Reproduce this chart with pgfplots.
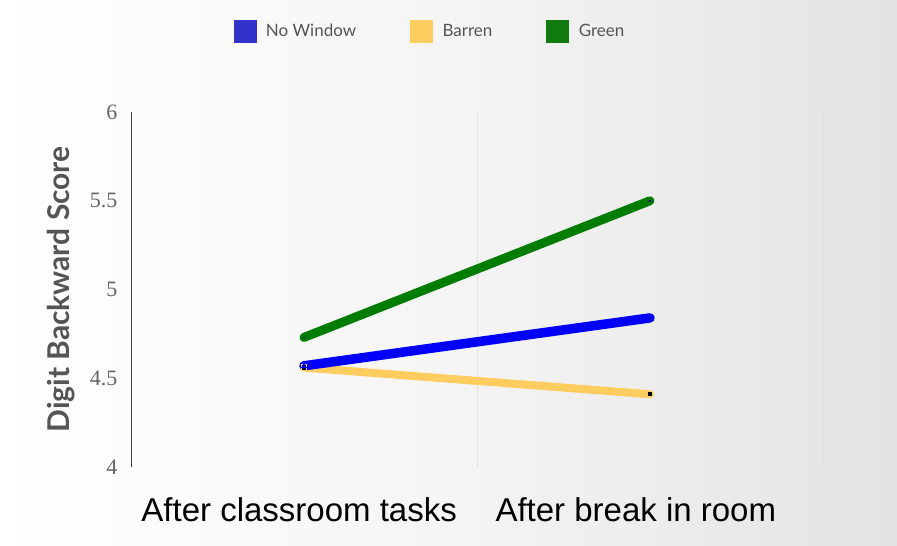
\documentclass[border=0pt]{standalone}
\usepackage{pgfplots}
\pgfplotsset{compat=1.18}
\usepackage{fontspec}
\setmainfont{Liberation Sans}
\newfontfamily\legendfont{Lato}
\newfontfamily\tickfont{Liberation Serif}

\definecolor{nowinline}{RGB}{0,0,250}
\definecolor{nowinkey}{RGB}{51,51,204}
\definecolor{barren}{RGB}{255,204,95}
\definecolor{greenline}{RGB}{0,125,0}
\definecolor{greenkey}{RGB}{16,124,16}
\definecolor{labelgray}{RGB}{85,85,85}
\definecolor{tickgray}{RGB}{100,100,100}
\definecolor{gridgray}{RGB}{225,225,225}

% Digit Backward Score at the two measurement points
\pgfplotstableread{
x   score
0.5 4.57
1.5 4.84
}\nowindow
\pgfplotstableread{
x   score
0.5 4.56
1.5 4.41
}\barrenroom
\pgfplotstableread{
x   score
0.5 4.73
1.5 5.50
}\greenroom

\begin{document}
\begin{tikzpicture}
% page background with a soft left-to-right grey gradient
\shade[left color=white, right color=black!11, middle color=black!4]
  (0pt,0pt) rectangle (897pt,546pt);

\begin{axis}[
  at={(131pt,79pt)}, anchor=south west,
  scale only axis, width=692pt, height=355pt,
  xmin=0, xmax=2, ymin=4, ymax=6,
  axis x line=none,
  axis y line*=left,
  y axis line style={draw=black!75, line width=0.8pt, -},
  ytick={4,4.5,5,5.5,6},
  yticklabels={4,4.5,5,5.5,6},
  major tick length=0pt,
  yticklabel style={font=\tickfont\fontsize{22}{26}\selectfont, text=tickgray, xshift=-10pt},
  ylabel={\legendfont\bfseries Digit Backward Score},
  ylabel style={at={(axis description cs:-0.101,0.5)}, anchor=center, rotate=0,
    font=\fontsize{30}{36}\selectfont, text=labelgray},
  clip=false,
  legend columns=3,
  legend style={at={(axis description cs:0.432,1.228)}, anchor=center,
    draw=none, fill=none, inner sep=0pt,
    font=\legendfont\fontsize{17}{20}\selectfont, text=labelgray,
    /tikz/every odd column/.append style={column sep=8pt},
    /tikz/every even column/.append style={column sep=52pt}},
  legend cell align=left,
]
% vertical separators between the categories
\draw[gridgray, line width=0.8pt] (axis cs:1,4) -- (axis cs:1,6);
\draw[gridgray, line width=0.8pt] (axis cs:2,4) -- (axis cs:2,6);

\addlegendimage{legend image code/.code={\fill[nowinkey] (0pt,-11pt) rectangle (22pt,11pt);}}
\addlegendentry{No Window}
\addlegendimage{legend image code/.code={\fill[barren] (0pt,-11pt) rectangle (22pt,11pt);}}
\addlegendentry{Barren}
\addlegendimage{legend image code/.code={\fill[greenkey] (0pt,-11pt) rectangle (22pt,11pt);}}
\addlegendentry{Green}

\addplot[barren, line width=8pt, line cap=round, forget plot,
  mark=square*, mark size=2.6pt, mark options={fill=black, draw=none, line width=0pt}]
  table[x=x, y=score] {\barrenroom};
\addplot[nowinline, line width=9.5pt, line cap=round, forget plot,
  mark=triangle*, mark size=2.6pt, mark options={fill=blue!60!black, draw=none, line width=0pt}]
  table[x=x, y=score] {\nowindow};
\addplot[greenline, line width=9pt, line cap=round, forget plot,
  mark=triangle*, mark size=2.6pt, mark options={fill=blue!60!black, draw=none, line width=0pt}]
  table[x=x, y=score] {\greenroom};

% category names under the plot
\node[font=\fontsize{33}{38}\selectfont, anchor=base] at (axis cs:0.486,4) [yshift=-55pt] {After classroom tasks};
\node[font=\fontsize{33}{38}\selectfont, anchor=base] at (axis cs:1.459,4) [yshift=-55pt] {After break in room};
\end{axis}
\pgfresetboundingbox
\useasboundingbox (0pt,0pt) rectangle (897pt,546pt);
\end{tikzpicture}
\end{document}
